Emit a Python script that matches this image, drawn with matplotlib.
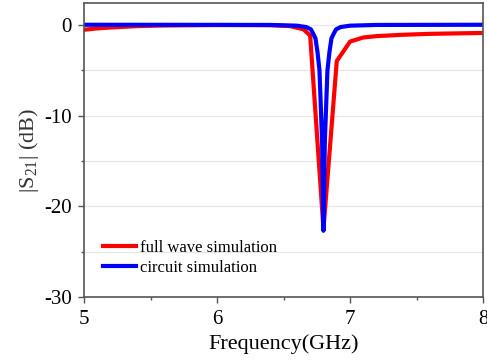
import numpy as np
import matplotlib.pyplot as plt
from matplotlib.ticker import MultipleLocator

plt.rcParams['font.family'] = ['Liberation Serif', 'DejaVu Serif']
plt.rcParams['axes.unicode_minus'] = False
plt.rcParams['mathtext.fontset'] = 'custom'
plt.rcParams['mathtext.rm'] = 'Liberation Serif'

# full wave simulation (coarse sampled)
f_full = [5.0, 5.1, 5.2, 5.4, 5.6, 6.0, 6.4, 6.55, 6.65, 6.7, 6.8, 6.9, 7.0, 7.1, 7.2, 7.4, 7.6, 8.0]
s_full = [-0.55, -0.4, -0.3, -0.15, -0.08, -0.03, -0.05, -0.15, -0.5, -1.2, -22.5, -4.0, -1.85, -1.4, -1.25, -1.1, -1.0, -0.9]

# circuit simulation
f_circ = [5.0, 6.0, 6.4, 6.6, 6.67, 6.705, 6.72, 6.74, 6.755, 6.77, 6.78, 6.79, 6.8,
          6.81, 6.82, 6.83, 6.845, 6.86, 6.88, 6.895, 6.93, 7.0, 7.2, 8.0]
s_circ = [0.0, -0.01, -0.02, -0.1, -0.25, -0.5, -0.9, -1.5, -3.0, -5.0, -9.0, -13.0, -22.7,
          -13.0, -9.0, -5.0, -3.0, -1.5, -0.9, -0.5, -0.25, -0.1, -0.02, 0.0]

fig = plt.figure(figsize=(4.87, 3.6), dpi=100)
ax = fig.add_axes([0.1725, 0.175, 0.8195, 0.8167])

ax.plot(f_full, s_full, color='#ff0000', lw=3, label='full wave simulation')
ax.plot(f_circ, s_circ, color='#0000ff', lw=3, label='circuit simulation')

ax.set_xlim(5, 8)
ax.set_ylim(-30, 2.4)
ax.xaxis.set_major_locator(MultipleLocator(1))
ax.xaxis.set_minor_locator(MultipleLocator(0.5))
ax.yaxis.set_major_locator(MultipleLocator(10))
ax.yaxis.set_minor_locator(MultipleLocator(5))
ax.grid(True, axis='y', which='both', color='#e6e6e6', lw=0.8)
ax.set_axisbelow(True)

for sp in ax.spines.values():
    sp.set_color('#555555')
    sp.set_linewidth(1.2)
ax.tick_params(which='major', length=4, width=1, color='#555555', labelsize=15, pad=5)
ax.tick_params(which='minor', length=2.5, width=1, color='#555555')

ax.set_xlabel('Frequency(GHz)', fontsize=16, labelpad=4)
ax.set_ylabel('|S$_{21}$| (dB)', fontsize=16, labelpad=2, color='#333333')

ax.legend(loc='lower left', bbox_to_anchor=(0.01, 0.02), frameon=False, fontsize=12,
          handlelength=2.0, handletextpad=0.2, labelspacing=0.25)

fig.savefig('out.png', dpi=100)
